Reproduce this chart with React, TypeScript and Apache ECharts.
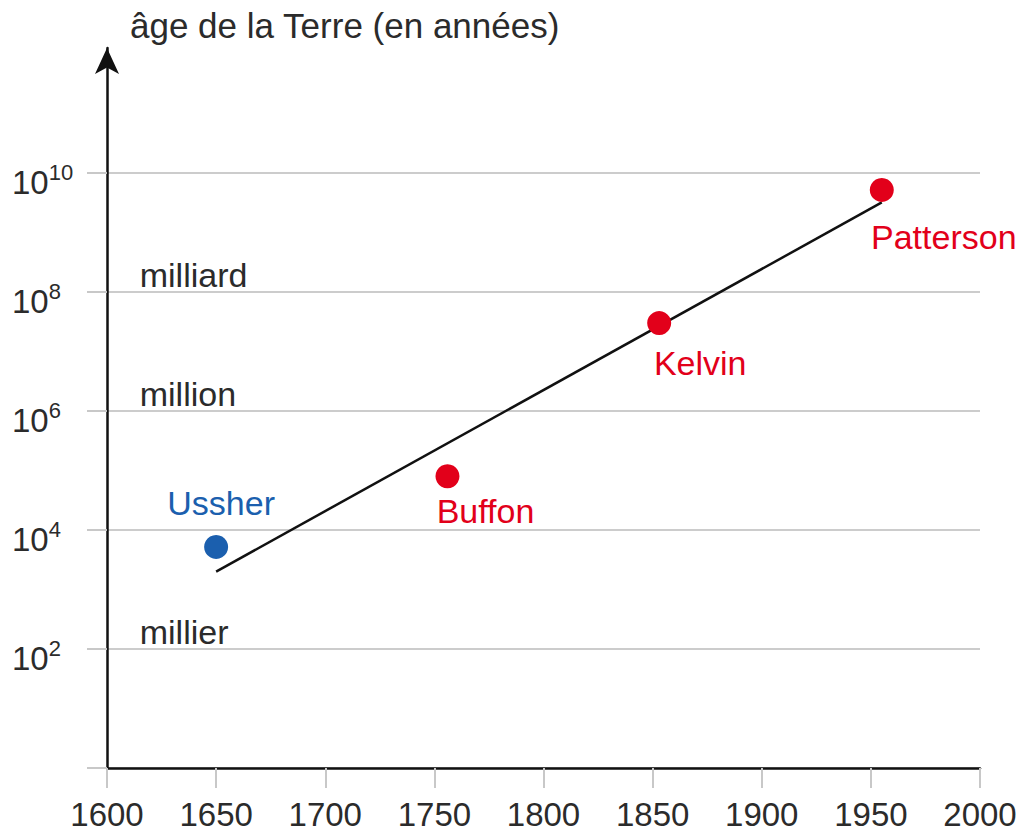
import React, { useEffect, useRef } from "react";
import * as echarts from "echarts";

// ---- data ----
const axisTitle = "âge de la Terre (en années)";
const yearMin = 1600;
const yearMax = 2000;
const yearStep = 50;
const ageMin = 1;
const ageMax = 1e10;

const scientists = ["Ussher", "Buffon", "Kelvin", "Patterson"];
const estimateYears = [1650, 1756, 1853, 1955];
const estimatedAges = [5200, 80000, 30000000, 5200000000];

const trendYears = [1650, 1955];
const trendAges = [2000, 3200000000];

const magnitudeWords = ["milliard", "million", "millier"];
const magnitudeAnchors = [1e8, 1e6, 1e2];
const magnitudeYear = 1615;

// ---- styles ----
const FONT = "'Liberation Sans', Arial, Helvetica, sans-serif";
const RED = "#e2001a";
const BLUE = "#1b5fae";
const TEXT = "#2b2b2b";
const GRID = "#cccccc";
const INK = "#111111";

const placement: Record<string, any> = {
  Ussher: { position: "top", distance: 15, offset: [5, 0], color: BLUE },
  Buffon: { position: "bottom", distance: 6, offset: [38, 0], color: RED },
  Kelvin: { position: "bottom", distance: 11, offset: [41, 0], color: RED },
  Patterson: { position: "bottom", distance: 18, offset: [62, 0], color: RED },
};

export default function App() {
  const ref = useRef<HTMLDivElement>(null);

  useEffect(() => {
    if (!ref.current) return;
    const chart = echarts.init(ref.current, undefined, { renderer: "svg" });

    const pointData = scientists.map((name, i) => {
      const p = placement[name];
      return {
        name,
        value: [estimateYears[i], estimatedAges[i]],
        itemStyle: { color: p.color, opacity: 1 },
        label: {
          show: true,
          position: p.position,
          distance: p.distance,
          offset: p.offset,
          color: p.color,
        },
      };
    });

    const magnitudeData = magnitudeWords.map((w, i) => ({
      name: w,
      value: [magnitudeYear, magnitudeAnchors[i]],
    }));

    chart.setOption({
      animation: false,
      title: {
        text: axisTitle,
        left: 125,
        top: 3,
        textStyle: {
          fontSize: 35,
          fontWeight: "normal",
          color: TEXT,
          fontFamily: FONT,
        },
      },
      grid: [
        { left: 107, right: 43, top: 48, bottom: 71 },
        { left: 107, right: 43, top: 173, bottom: 71 },
      ],
      xAxis: [
        { gridIndex: 0, type: "value", min: 0, max: 1, show: false },
        {
          gridIndex: 1,
          type: "value",
          min: yearMin,
          max: yearMax,
          interval: yearStep,
          axisLine: { onZero: false, lineStyle: { color: INK, width: 2.5 } },
          axisTick: { show: true, length: 20, lineStyle: { color: "#c8c8c8", width: 2 } },
          axisLabel: {
            fontSize: 33,
            color: TEXT,
            margin: 30,
            fontFamily: FONT,
            formatter: (v: number) => String(v),
          },
          splitLine: { show: false },
        },
      ],
      yAxis: [
        {
          gridIndex: 0,
          type: "value",
          min: 0,
          max: 1,
          axisLine: {
            show: true,
            symbol: ["none", "arrow"],
            symbolSize: [18, 26],
            lineStyle: { color: INK, width: 2.5 },
          },
          axisTick: { show: false },
          axisLabel: { show: false },
          splitLine: { show: false },
        },
        {
          gridIndex: 1,
          type: "log",
          logBase: 100,
          min: ageMin,
          max: ageMax,
          axisLine: { show: false },
          axisTick: { show: true, length: 20, lineStyle: { color: "#c8c8c8", width: 2 } },
          splitLine: { show: true, lineStyle: { color: GRID, width: 2 } },
          axisLabel: {
            align: "left",
            margin: 95,
            formatter: (v: number) => {
              const e = Math.round(Math.log10(v));
              if (e === 0) return "";
              return "{b|10}{s|" + e + "}";
            },
            rich: {
              b: { fontSize: 33, color: TEXT, fontFamily: FONT, lineHeight: 36, padding: [18, 0, 0, 0] },
              s: { fontSize: 22, color: TEXT, fontFamily: FONT, lineHeight: 22, padding: [0, 0, 2, 0] },
            },
          },
        },
      ],
      series: [
        {
          type: "line",
          xAxisIndex: 1,
          yAxisIndex: 1,
          data: trendYears.map((x, i) => [x, trendAges[i]]),
          symbol: "none",
          silent: true,
          lineStyle: { color: INK, width: 2.5 },
          z: 2,
        },
        {
          type: "scatter",
          xAxisIndex: 1,
          yAxisIndex: 1,
          symbolSize: 24,
          silent: true,
          z: 3,
          itemStyle: { opacity: 1 },
          label: { show: true, formatter: "{b}", fontSize: 34, fontFamily: FONT },
          data: pointData,
        },
        {
          type: "scatter",
          xAxisIndex: 1,
          yAxisIndex: 1,
          symbolSize: 1,
          silent: true,
          itemStyle: { color: "rgba(0,0,0,0)", opacity: 1 },
          z: 3,
          label: {
            show: true,
            formatter: "{b}",
            position: "top",
            distance: 0,
            align: "left",
            fontSize: 34,
            color: TEXT,
            fontFamily: FONT,
          },
          data: magnitudeData,
        },
      ],
    });

    return () => chart.dispose();
  }, []);

  return (
    <div
      ref={ref}
      style={{ position: "absolute", left: 0, top: 0, width: 1023, height: 839, background: "#fff" }}
    />
  );
}
